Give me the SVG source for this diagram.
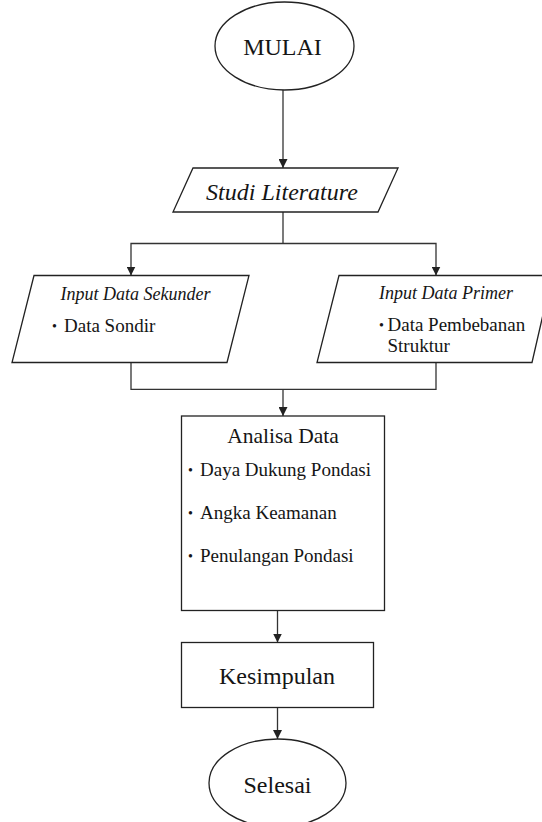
<svg xmlns="http://www.w3.org/2000/svg" width="542" height="822" viewBox="0 0 542 822">
<style>
  .shape { fill: #ffffff; stroke: #222222; stroke-width: 1.3; }
  .conn { fill: none; stroke: #333333; stroke-width: 1.3; }
  text { font-family: "Liberation Serif", "Times New Roman", serif; fill: #151515; }
  .big { font-size: 24px; }
  .title { font-size: 21.5px; }
  .it { font-size: 18px; font-style: italic; }
  .item { font-size: 19px; }
  .bul { font-size: 14px; }
</style>
<defs>
  <marker id="arr" viewBox="0 0 10 10" refX="10" refY="5" markerWidth="9" markerHeight="9" markerUnits="userSpaceOnUse" orient="auto">
    <path d="M0,0 L10,5 L0,10 Z" fill="#222222"/>
  </marker>
</defs>
<rect width="542" height="822" fill="#ffffff"/>

<g id="connectors">
  <line class="conn" x1="283" y1="90" x2="283" y2="168" marker-end="url(#arr)"/>
  <line class="conn" x1="283" y1="212" x2="283" y2="243.5"/>
  <polyline class="conn" points="283,243.5 131,243.5 131,275.5" marker-end="url(#arr)"/>
  <polyline class="conn" points="283,243.5 436,243.5 436,275.5" marker-end="url(#arr)"/>
  <polyline class="conn" points="131,362.5 131,389.3 436,389.3 436,362.5"/>
  <line class="conn" x1="283" y1="389.3" x2="283" y2="416" marker-end="url(#arr)"/>
  <line class="conn" x1="277.5" y1="610.5" x2="277.5" y2="642.5" marker-end="url(#arr)"/>
  <line class="conn" x1="277.5" y1="707.5" x2="277.5" y2="739" marker-end="url(#arr)"/>
</g>

<g id="mulai">
  <ellipse class="shape" cx="284.5" cy="46" rx="69.5" ry="44"/>
  <text class="big" x="282.5" y="55" text-anchor="middle">MULAI</text>
</g>

<g id="studi-literature">
  <polygon class="shape" points="193,168 398,168 378,212 173,212"/>
  <text class="big" x="282" y="199.5" text-anchor="middle" font-style="italic">Studi Literature</text>
</g>

<g id="input-sekunder">
  <polygon class="shape" points="34,275.5 249,275.5 227,362.5 12,362.5"/>
  <text class="it" x="135.5" y="299.5" text-anchor="middle">Input Data Sekunder</text>
  <text class="item" y="332"><tspan class="bul" x="52" dy="-1">•</tspan><tspan x="64" dy="1">Data Sondir</tspan></text>
</g>

<g id="input-primer">
  <polygon class="shape" points="339,275.5 552,275.5 532,362.5 317,362.5"/>
  <text class="it" x="446" y="298.5" text-anchor="middle">Input Data Primer</text>
  <text class="item" y="331"><tspan class="bul" x="379" dy="-1">•</tspan><tspan x="387.5" dy="1">Data Pembebanan</tspan></text>
  <text class="item" x="387.5" y="351.5">Struktur</text>
</g>

<g id="analisa-data">
  <rect class="shape" x="181.5" y="416" width="203" height="194.5"/>
  <text class="title" x="283" y="442.5" text-anchor="middle">Analisa Data</text>
  <text class="item" y="476"><tspan class="bul" x="188" dy="-1">•</tspan><tspan x="200" dy="1">Daya Dukung Pondasi</tspan></text>
  <text class="item" y="518.5"><tspan class="bul" x="188" dy="-1">•</tspan><tspan x="200" dy="1">Angka Keamanan</tspan></text>
  <text class="item" y="562"><tspan class="bul" x="188" dy="-1">•</tspan><tspan x="200" dy="1">Penulangan Pondasi</tspan></text>
</g>

<g id="kesimpulan">
  <rect class="shape" x="181.5" y="642.5" width="192" height="65"/>
  <text class="big" x="277" y="683.5" text-anchor="middle">Kesimpulan</text>
</g>

<g id="selesai">
  <ellipse class="shape" cx="277.5" cy="783" rx="68.5" ry="44"/>
  <text class="big" x="277.5" y="793" text-anchor="middle">Selesai</text>
</g>
</svg>
